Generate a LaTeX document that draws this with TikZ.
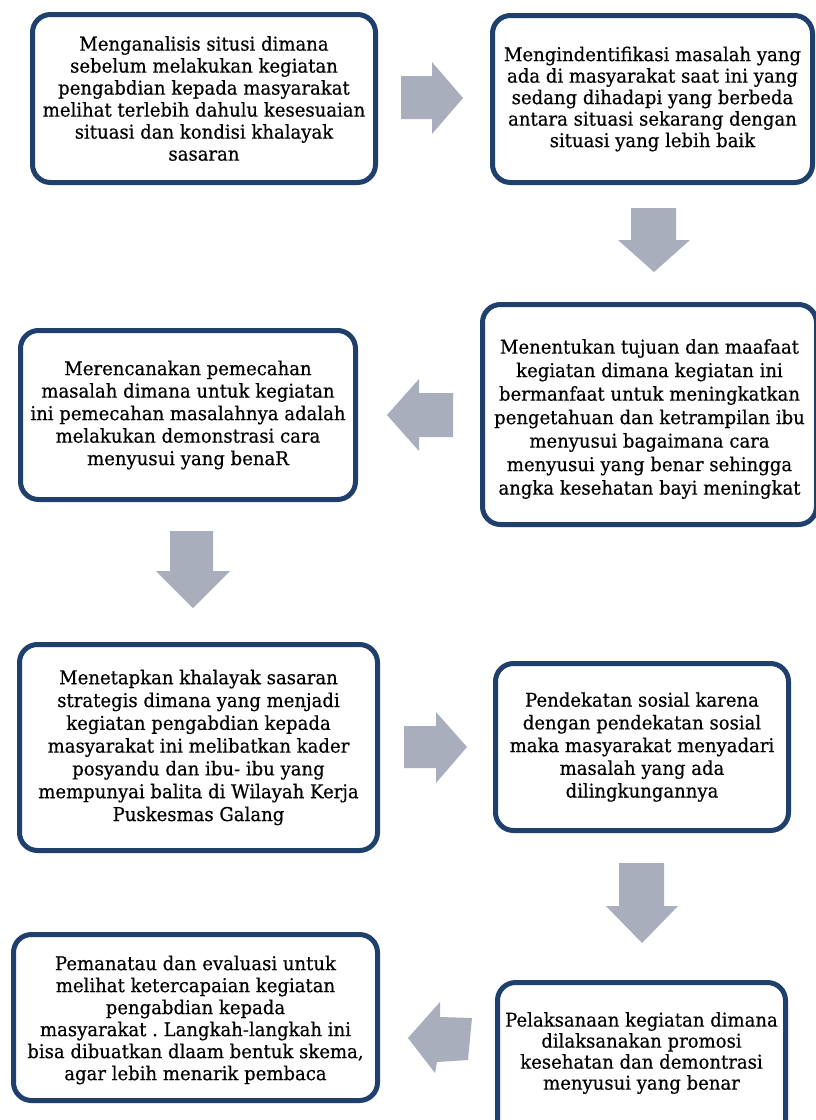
\documentclass[tikz,border=0pt]{standalone}
\usepackage{fontspec}
\setmainfont{DejaVu Serif}[FakeStretch=0.95,FakeBold=0.5]
\definecolor{boxblue}{HTML}{1F3F6D}
\definecolor{arrowgray}{HTML}{A8AEBC}
\frenchspacing
\begin{document}
\begin{tikzpicture}[x=1pt,y=-1pt]
\tikzset{
  box/.style={draw=boxblue, line width=5pt, rounded corners=18pt, fill=white,
    align=center, inner sep=0pt, text=black},
  fs/.style={font=\fontsize{19}{#1}\selectfont},
  boxtext/.style={align=center, inner sep=0pt, text=black},
  arr/.style={fill=arrowgray, draw=none}
}
\useasboundingbox (0,0) rectangle (816,1120);
\fill[white] (0,0) rectangle (816,1120);

% boxes
\node[box, fs=22, minimum width=343pt, minimum height=168pt] (a) at (204,98.5)
 {Menganalisis situsi dimana\\sebelum melakukan kegiatan\\pengabdian kepada masyarakat\\melihat terlebih dahulu kesesuaian\\situasi dan kondisi khalayak\\sasaran};
\node[box, fs=21.5, minimum width=320pt, minimum height=167pt] (b) at (652.5,99)
 {Mengindentifikasi masalah yang\\ada di masyarakat saat ini yang\\sedang dihadapi yang berbeda\\antara situasi sekarang dengan\\situasi yang lebih baik};
\node[box, minimum width=334pt, minimum height=220pt] (c) at (649.5,414.5) {};
\node[boxtext, fs=23.5] (ct) at (649.5,419)
 {Menentukan tujuan dan maafaat\\kegiatan dimana kegiatan ini\\bermanfaat untuk meningkatkan\\pengetahuan dan ketrampilan ibu\\menyusui bagaimana cara\\menyusui yang benar sehingga\\angka kesehatan bayi meningkat};
\node[box, fs=22.5, minimum width=335pt, minimum height=169pt] (d) at (188,415)
 {Merencanakan pemecahan\\masalah dimana untuk kegiatan\\ini pemecahan masalahnya adalah\\melakukan demonstrasi cara\\menyusui yang benaR};
\node[box, fs=22.8, minimum width=358pt, minimum height=206pt] (e) at (198.5,747.5)
 {Menetapkan khalayak sasaran\\strategis dimana yang menjadi\\kegiatan pengabdian kepada\\masyarakat ini melibatkan kader\\posyandu dan ibu- ibu yang\\mempunyai balita di Wilayah Kerja\\Puskesmas Galang};
\node[box, fs=22.7, minimum width=293pt, minimum height=167pt] (f) at (642,747)
 {Pendekatan sosial karena\\dengan pendekatan sosial\\maka masyarakat menyadari\\masalah yang ada\\dilingkungannya};
\node[box, minimum width=364pt, minimum height=166pt] (g) at (195.5,1017.5) {};
\node[boxtext, fs=22] (gt) at (195.5,1020)
 {Pemanatau dan evaluasi untuk\\melihat ketercapaian kegiatan\\pengabdian kepada\\masyarakat . Langkah-langkah ini\\bisa dibuatkan dlaam bentuk skema,\\agar lebih menarik pembaca};
\node[box, minimum width=288pt, minimum height=174pt] (h) at (641.5,1069.5) {};
\node[boxtext, fs=21] (ht) at (641.5,1053)
 {Pelaksanaan kegiatan dimana\\dilaksanakan promosi\\kesehatan dan demontrasi\\menyusui yang benar};

% block arrows
% a -> b
\fill[arr] (401,76) -- (432,76) -- (432,62) -- (463,98) -- (432,134) -- (432,119) -- (401,119) -- cycle;
% b -> c
\fill[arr] (631,208) -- (676,208) -- (676,240) -- (690,240) -- (654,272) -- (618,240) -- (631,240) -- cycle;
% c -> d
\fill[arr] (453,393) -- (419,393) -- (419,379) -- (387,415) -- (419,451) -- (419,437) -- (453,437) -- cycle;
% d -> e
\fill[arr] (170,531) -- (213,531) -- (213,571) -- (230,571) -- (193,608) -- (156,571) -- (170,571) -- cycle;
% e -> f
\fill[arr] (404,726) -- (436,726) -- (436,712) -- (467,747) -- (436,783) -- (436,768) -- (404,768) -- cycle;
% f -> h
\fill[arr] (619,863) -- (664,863) -- (664,906) -- (678,906) -- (642,943) -- (606,906) -- (619,906) -- cycle;
% h -> g
\fill[arr] (472,1018) -- (468,1060) -- (437,1062) -- (435,1073) -- (408,1038) -- (440,1002) -- (440,1017) -- cycle;
\end{tikzpicture}
\end{document}
